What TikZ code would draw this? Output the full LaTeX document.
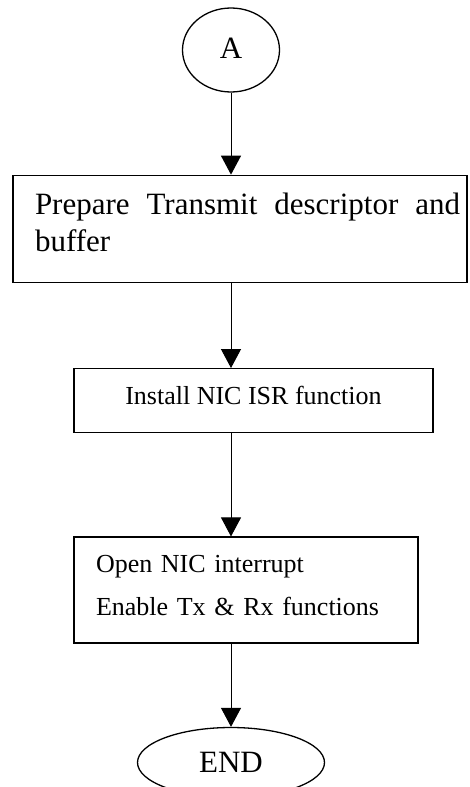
\documentclass[tikz,border=0pt]{standalone}
\usepackage{fontspec}
\setmainfont{Liberation Serif}
\usetikzlibrary{arrows.meta,positioning,shapes.geometric}
\hbadness=10000
\hyphenpenalty=10000
\tikzset{
    termnode/.style = {ellipse, draw, line width=1.3pt, inner sep=0pt,
                       font=\fontsize{31}{37}\selectfont},
    stepbox/.style  = {rectangle, draw, line width=1.4pt, inner sep=0pt},
    bigtext/.style  = {font=\fontsize{31}{37}\selectfont},
    smalltext/.style = {font=\fontsize{26}{31}\selectfont},
    flowArr/.style  = {-{Triangle[width=20pt,length=19pt]}, line width=1pt}
}
\begin{document}
\begin{tikzpicture}[x=1pt, y=1pt]

\useasboundingbox (0,0) rectangle (470,-787);

% ===== Connector A =====
\node[termnode, minimum width=97pt, minimum height=84pt, text depth=4pt]
   (conA) at (231,-50) {A};

% ===== Steps =====
\node[stepbox, bigtext, below=82pt of conA, xshift=9pt,
      minimum width=454pt, minimum height=107pt, text depth=50pt] (prep)
   {\hspace*{15pt}\parbox[t]{425pt}{Prepare Transmit descriptor and buffer}};

\node[stepbox, smalltext, below=85pt of prep, xshift=13.5pt,
      minimum width=359pt, minimum height=64pt, text depth=10pt] (isr)
   {Install NIC ISR function};

\node[stepbox, smalltext, below=103pt of isr, xshift=-7.5pt,
      minimum width=344pt, minimum height=106pt,
      text width=300pt, align=left, text depth=53pt] (nicirq)
   {Open NIC interrupt\\[12pt]Enable Tx \& Rx functions};

% ===== End =====
\node[termnode, below=83pt of nicirq, xshift=-15pt,
      minimum width=187pt, minimum height=70pt] (finish) {END};

% ===== Arrows =====
\draw[flowArr] (conA.south) -- (conA.south |- prep.north);
\draw[flowArr] (conA.south |- prep.south) -- (conA.south |- isr.north);
\draw[flowArr] (conA.south |- isr.south) -- (conA.south |- nicirq.north);
\draw[flowArr] (conA.south |- nicirq.south) -- (finish.north);

\end{tikzpicture}
\end{document}
